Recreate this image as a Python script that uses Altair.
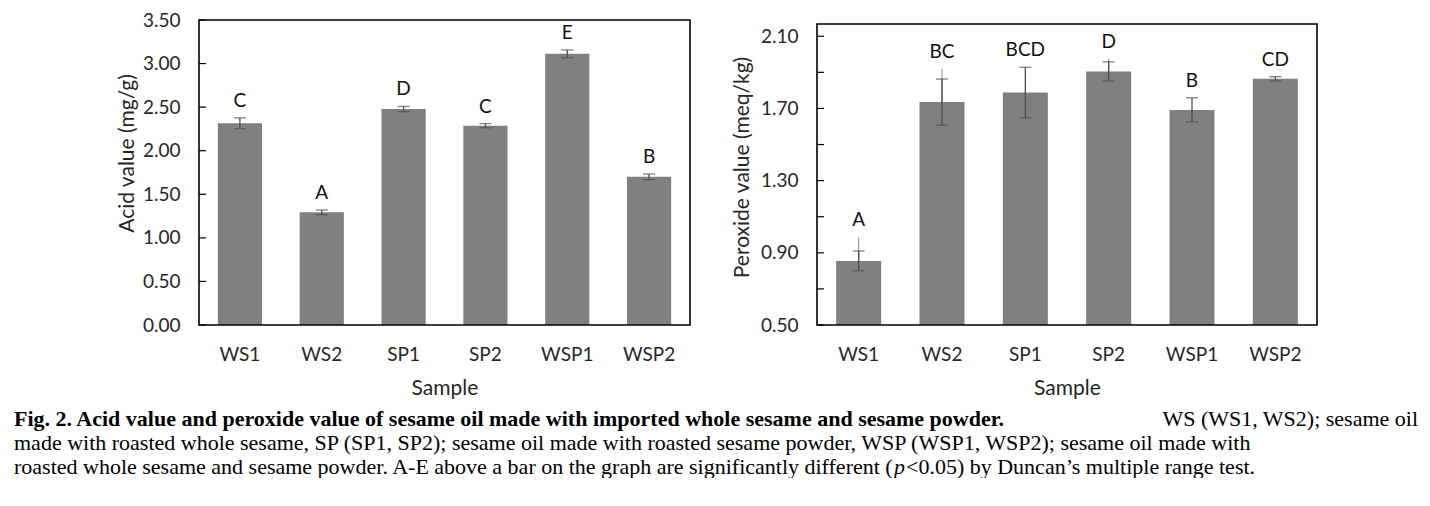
import altair as alt
import pandas as pd

# ---------------- data ----------------
samples = ["WS1", "WS2", "SP1", "SP2", "WSP1", "WSP2"]

acid_mean = [2.315, 1.293, 2.478, 2.287, 3.112, 1.700]
acid_err = [0.062, 0.027, 0.030, 0.024, 0.044, 0.032]
acid_letters = ["C", "A", "D", "C", "E", "B"]
acid_ticks = [0.0, 0.5, 1.0, 1.5, 2.0, 2.5, 3.0, 3.5]

perox_mean = [0.855, 1.735, 1.788, 1.905, 1.692, 1.864]
perox_err = [0.055, 0.128, 0.140, 0.053, 0.067, 0.012]
perox_ext = [0.985, 1.920, None, 1.975, None, None]
perox_letters = ["A", "BC", "BCD", "D", "B", "CD"]
perox_ticks = [0.5, 0.7, 0.9, 1.1, 1.3, 1.5, 1.7, 1.9, 2.1]

caption_1_bold = ["Fig. 2. Acid value and peroxide value of sesame oil made with imported whole sesame and sesame powder."]
caption_1_rest = ["WS (WS1, WS2); sesame oil"]
caption_2 = ["made with roasted whole sesame, SP (SP1, SP2); sesame oil made with roasted sesame powder, WSP (WSP1, WSP2); sesame oil made with"]
caption_3a = ["roasted whole sesame and sesame powder. A-E above a bar on the graph are significantly different ("]
caption_3b = ["p"]
caption_3c = ["<0.05) by Duncan\u2019s multiple range test."]

SANS = "Lato"
SERIF = "Liberation Serif"
TXT = "#262626"
BAR = "#808080"
ERR = "#4d4d4d"
CAP_SIZE = 22


def make_df(mean, err, letters, ext=None):
    df = pd.DataFrame({"sample": samples, "mean": mean, "err": err, "letter": letters})
    df["lo"] = df["mean"] - df["err"]
    df["hi"] = df["mean"] + df["err"]
    df["ext"] = ext if ext is not None else [None] * len(samples)
    df["top"] = df[["hi", "ext"]].max(axis=1)
    return df


def panel(df, ticks, domain, ytitle, w, h, ytitle_x, ytitle_y, frame_top):
    xscale = alt.Scale(domain=samples, paddingInner=0.46, paddingOuter=0.23)
    xaxis = alt.Axis(title="Sample", labelAngle=0, ticks=False, domain=False,
                     labelPadding=20, labelFont=SANS, labelFontSize=19, labelColor=TXT,
                     titleFont=SANS, titleFontSize=21, titleFontWeight="normal",
                     titleColor=TXT, titleY=63, titleBaseline="middle")
    yscale = alt.Scale(domain=domain, zero=False, nice=False)
    yaxis = alt.Axis(values=ticks, format=".2f", grid=False, ticks=False, domain=False,
                     labelOverlap=False,
                     labelPadding=19, labelFont=SANS, labelFontSize=19, labelColor=TXT,
                     title=ytitle, titleFont=SANS, titleFontSize=21,
                     titleFontWeight="normal", titleColor=TXT,
                     titleX=ytitle_x, titleY=ytitle_y, titleBaseline="middle")
    base = alt.Chart(df)
    x = alt.X("sample:N", scale=xscale, axis=xaxis, sort=samples)
    xs = alt.X("sample:N", scale=xscale, sort=samples)
    bars = base.mark_bar(color=BAR).encode(
        x=x, y=alt.Y("mean:Q", scale=yscale, axis=yaxis), y2=alt.datum(domain[0]))
    ext = base.transform_filter("isValid(datum.ext)").mark_rule(
        color="#9a9a9a", strokeWidth=1.2).encode(x=xs, y="mean:Q", y2="ext:Q")
    rule = base.mark_rule(color=ERR, strokeWidth=1.3).encode(x=xs, y="lo:Q", y2="hi:Q")
    cap_lo = base.mark_tick(color=ERR, orient="horizontal", size=12, thickness=1.3).encode(x=xs, y="lo:Q")
    cap_hi = base.mark_tick(color=ERR, orient="horizontal", size=12, thickness=1.3).encode(x=xs, y="hi:Q")
    letters = base.mark_text(baseline="bottom", dy=-7, font=SANS, fontSize=19, color="#111111").encode(
        x=xs, y="top:Q", text="letter:N")
    tickmarks = alt.Chart(pd.DataFrame({"v": ticks})).mark_rule(color="#000000", strokeWidth=1.2).encode(
        y=alt.Y("v:Q"), x=alt.value(0), x2=alt.value(7))
    frame = alt.Chart(pd.DataFrame({"f": [0]})).mark_rect(
        fillOpacity=0, stroke="#000000", strokeWidth=1.6).encode(
        x=alt.value(0), x2=alt.value(w), y=alt.value(frame_top), y2=alt.value(h))
    return alt.layer(bars, ext, rule, cap_lo, cap_hi, letters, tickmarks, frame).properties(width=w, height=h)


def cap(text, x, y, weight="normal", style="normal", align="left"):
    return alt.Chart(pd.DataFrame({"t": text})).mark_text(
        align=align, baseline="middle", font=SERIF, fontSize=CAP_SIZE, fontWeight=weight,
        fontStyle=style, color="#000000").encode(text="t:N", x=alt.value(x), y=alt.value(y))


acid_df = make_df(acid_mean, acid_err, acid_letters)
perox_df = make_df(perox_mean, perox_err, perox_letters, perox_ext)

left = panel(acid_df, acid_ticks, [0.0, 3.5], "Acid value (mg/g)", 491, 305, -72, 133, 0)
right = panel(perox_df, perox_ticks, [0.5, 2.19], "Peroxide value (meq/kg)", 500, 305, -75, 147, 4)

captions = alt.layer(
    cap(caption_1_bold, -185, 399, weight="bold"),
    cap(caption_1_rest, 1219, 399, align="right"),
    cap(caption_2, -185, 423),
    cap(caption_3a, -185, 447),
    cap(caption_3b, 695, 447, style="italic"),
    cap(caption_3c, 707, 447),
)

left_full = alt.layer(left, captions)

chart = alt.hconcat(left_full, right, spacing=127, bounds="flush").properties(
    padding={"left": 6, "top": 3, "right": 0, "bottom": 0}
).configure_view(strokeWidth=0)

chart.save("out.html", embed_options={"renderer": "svg", "actions": False})
